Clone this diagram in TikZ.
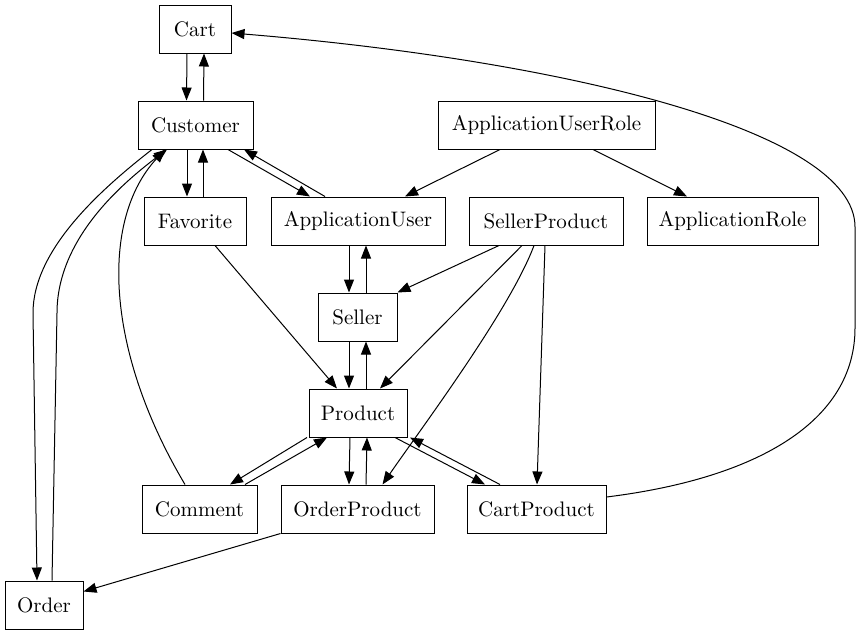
\documentclass[tikz,border=0pt]{standalone}
\usepackage{fontspec}
\setmainfont{lmroman10-regular}[Extension=.otf]
\usetikzlibrary{arrows.meta}
\begin{document}
\begin{tikzpicture}[x=1pt,y=-1pt,
  box/.style={draw,line width=1pt,inner sep=0pt,minimum height=48pt,font=\fontsize{21}{25}\selectfont},
  edge/.style={line width=1pt,-{Triangle[length=13pt,width=10pt]}}]
\useasboundingbox (0,0) rectangle (861,635);
\node[box,minimum width=72pt]  (cart)  at (195,29) {Cart};
\node[box,minimum width=115pt] (cust)  at (195.5,125) {Customer};
\node[box,minimum width=217pt] (aur)   at (546.5,125) {ApplicationUserRole};
\node[box,minimum width=102pt] (fav)   at (195,221) {Favorite};
\node[box,minimum width=174pt] (au)    at (358,221) {ApplicationUser};
\node[box,minimum width=154pt] (sp)    at (546,221) {SellerProduct};
\node[box,minimum width=171pt] (ar)    at (732.5,221) {ApplicationRole};
\node[box,minimum width=79pt]  (sel)   at (357.5,317) {Seller};
\node[box,minimum width=98pt]  (prod)  at (358,413) {Product};
\node[box,minimum width=115pt] (com)   at (199.5,509) {Comment};
\node[box,minimum width=153pt] (op)    at (357.5,509) {OrderProduct};
\node[box,minimum width=139pt] (cp)    at (536.5,509) {CartProduct};
\node[box,minimum width=78pt]  (ord)   at (44,605) {Order};

% Cart <-> Customer
\draw[edge] ([xshift=-8pt]cart.south) -- ([xshift=-9pt]cust.north);
\draw[edge] ([xshift=8pt]cust.north) -- ([xshift=9pt]cart.south);
% Customer <-> Favorite
\draw[edge] ([xshift=-8.5pt]cust.south) -- ([xshift=-8pt]fav.north);
\draw[edge] ([xshift=8pt]fav.north) -- ([xshift=7.5pt]cust.south);
% Customer <-> ApplicationUser
\draw[edge] ([xshift=32.5pt]cust.south) -- ([xshift=-48pt]au.north);
\draw[edge] ([xshift=-33pt]au.north) -- ([xshift=48.5pt]cust.south);
% ApplicationUserRole
\draw[edge] ([xshift=-46.5pt]aur.south) -- ([xshift=47pt]au.north);
\draw[edge] ([xshift=46.5pt]aur.south) -- ([xshift=-45.5pt]ar.north);
% ApplicationUser <-> Seller
\draw[edge] ([xshift=-9pt]au.south) -- ([xshift=-8.5pt]sel.north);
\draw[edge] ([xshift=8.5pt]sel.north) -- ([xshift=8pt]au.south);
% SellerProduct
\draw[edge] ([xshift=-47pt]sp.south) -- (sel.north east);
\draw[edge] ([xshift=-24pt]sp.south) -- ([xshift=22pt]prod.north);
\draw[edge] ([xshift=-12pt]sp.south) .. controls (510,310) and (420,430) .. ([xshift=25pt]op.north);
\draw[edge] ([xshift=-1pt]sp.south) -- ([xshift=0.5pt]cp.north);
% Favorite -> Product
\draw[edge] ([xshift=20pt]fav.south) -- ([xshift=-21pt]prod.north);
% Seller <-> Product
\draw[edge] ([xshift=-8.5pt]sel.south) -- ([xshift=-9pt]prod.north);
\draw[edge] ([xshift=8pt]prod.north) -- ([xshift=8.5pt]sel.south);
% Product <-> Comment
\draw[edge] ([xshift=-51pt]prod.south) -- ([xshift=30.5pt]com.north);
\draw[edge] ([xshift=45.5pt]com.north) -- ([xshift=-31pt]prod.south);
% Product <-> OrderProduct
\draw[edge] ([xshift=-8pt]prod.south) -- ([xshift=-8.5pt]op.north);
\draw[edge] ([xshift=8.5pt]op.north) -- ([xshift=9pt]prod.south);
% Product <-> CartProduct
\draw[edge] ([xshift=37pt]prod.south) -- ([xshift=-51.5pt]cp.north);
\draw[edge] ([xshift=-36.5pt]cp.north) -- ([xshift=52pt]prod.south);
% OrderProduct -> Order
\draw[edge] (op.south west) -- ([yshift=-11pt]ord.north east);
% Customer <-> Order
\draw[edge] ([xshift=-43.5pt]cust.south) .. controls (100,190) and (33,250) .. (33,313) -- ([xshift=-7pt]ord.north);
\draw[edge] ([xshift=8pt]ord.north) -- (57,313) .. controls (57,240) and (120,185) .. ([xshift=-28.5pt]cust.south);
% Comment -> Customer
\draw[edge] ([xshift=-14.5pt]com.north) .. controls (105,350) and (100,220) .. ([xshift=-30.5pt]cust.south);
% CartProduct -> Cart
\draw[edge] ([yshift=12pt]cp.east) .. controls (760,478) and (855,420) .. (855,328) -- (855,227) .. controls (855,130) and (560,60) .. ([yshift=-4pt]cart.east);
\end{tikzpicture}
\end{document}
